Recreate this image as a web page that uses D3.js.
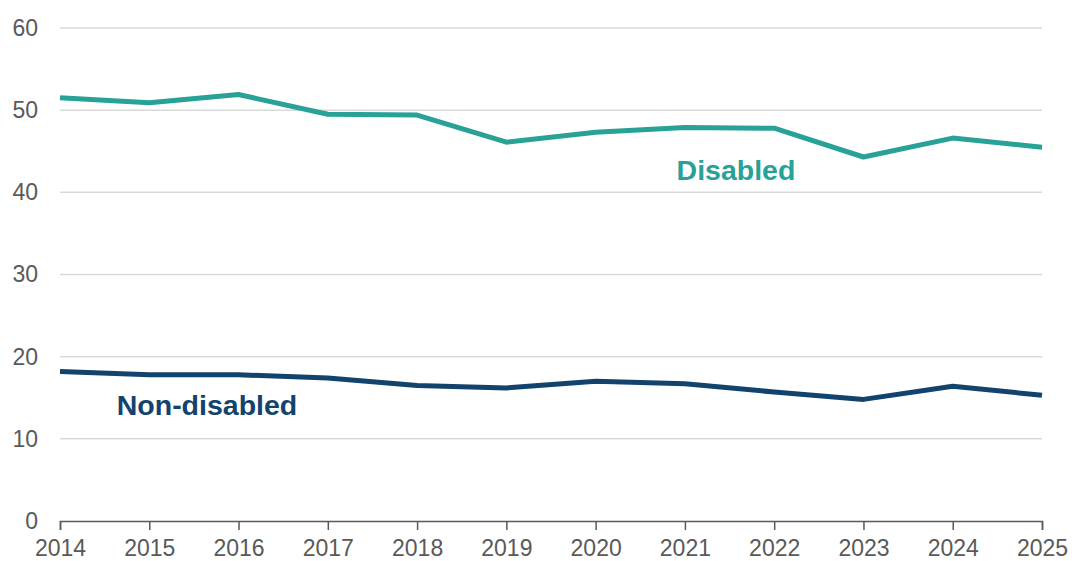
<!DOCTYPE html>
<html>
<head>
<meta charset="utf-8">
<script src="https://cdn.jsdelivr.net/npm/d3@7"></script>
<style>
	body { margin: 0; background: #fff; }
	svg { display: block; font-family: "Liberation Sans", Arial, sans-serif; }
</style>
</head>
<body>
<div id="chart"></div>
<script>
var years = [2014, 2015, 2016, 2017, 2018, 2019, 2020, 2021, 2022, 2023, 2024, 2025];
var disabled = [51.5, 50.9, 51.9, 49.5, 49.4, 46.1, 47.3, 47.9, 47.8, 44.3, 46.6, 45.5];
var nonDisabled = [18.2, 17.8, 17.8, 17.4, 16.5, 16.2, 17.0, 16.7, 15.7, 14.8, 16.4, 15.3];
var yTicks = [0, 10, 20, 30, 40, 50, 60];

var width = 1072, height = 561;
var margins = { L: 60, R: 30, T: 28, B: 40 };

var svg = d3.select('#chart').append('svg')
	.attr('width', width)
	.attr('height', height);

var xScale = d3.scaleLinear()
	.domain([2014, 2025])
	.range([margins.L, width - margins.R]);

var yScale = d3.scaleLinear()
	.domain([0, 60])
	.range([height - margins.B, margins.T]);

// gridlines
svg.append('g')
	.selectAll('line')
	.data(yTicks.filter(d => d > 0))
	.enter().append('line')
	.attr('x1', margins.L)
	.attr('x2', width - margins.R)
	.attr('y1', d => yScale(d))
	.attr('y2', d => yScale(d))
	.attr('stroke', '#d9d9d9')
	.attr('stroke-width', 1.5);

// y axis labels
var yAxis = svg.append('g')
	.attr('transform', 'translate(' + margins.L + ',0)')
	.call(d3.axisLeft(yScale).tickValues(yTicks).tickSize(0).tickPadding(22));
yAxis.select('.domain').remove();
yAxis.selectAll('text')
	.attr('fill', '#595959')
	.style('font-size', '23px');

// x axis
var xAxis = svg.append('g')
	.attr('transform', 'translate(0,' + yScale(0) + ')')
	.call(d3.axisBottom(xScale).tickValues(years).tickFormat(d3.format('d')).tickSize(9).tickSizeOuter(9).tickPadding(10));
xAxis.select('.domain').attr('stroke', '#595959').attr('stroke-width', 1.5);
xAxis.selectAll('.tick line').attr('stroke', '#595959').attr('stroke-width', 1.5);
xAxis.selectAll('text')
	.attr('fill', '#595959')
	.style('font-size', '23px');

var line = d3.line()
	.x((d, i) => xScale(years[i]))
	.y(d => yScale(d));

var series = [
	{ name: 'Disabled', values: disabled, color: '#28A197', lx: 736, ly: 180 },
	{ name: 'Non-disabled', values: nonDisabled, color: '#12436D', lx: 207, ly: 415 }
];

svg.selectAll('.series')
	.data(series)
	.enter().append('path')
	.attr('class', 'series')
	.attr('d', d => line(d.values))
	.attr('fill', 'none')
	.attr('stroke', d => d.color)
	.attr('stroke-width', 5)
	.attr('stroke-linejoin', 'round');

svg.selectAll('.label')
	.data(series)
	.enter().append('text')
	.attr('class', 'label')
	.attr('x', d => d.lx)
	.attr('y', d => d.ly)
	.attr('text-anchor', 'middle')
	.attr('fill', d => d.color)
	.style('font-size', '28.5px')
	.style('font-weight', 'bold')
	.text(d => d.name);
</script>
</body>
</html>
